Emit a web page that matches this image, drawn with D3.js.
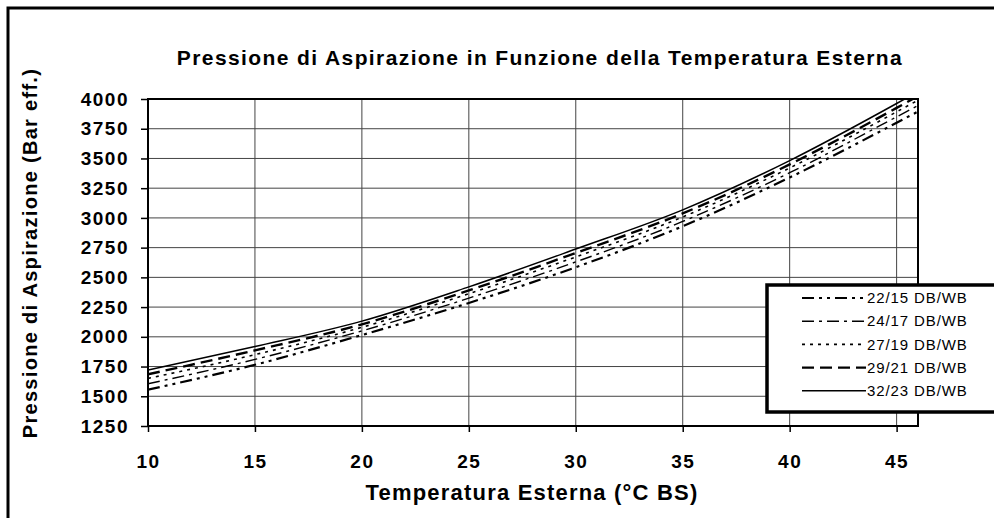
<!DOCTYPE html>
<html>
<head>
<meta charset="utf-8">
<script src="https://cdn.jsdelivr.net/npm/d3@7"></script>
<style>
  body { margin: 0; background: #fff; }
  text { font-family: "Liberation Sans", Arial, sans-serif; }
</style>
</head>
<body>
<svg id="chart" width="994" height="518"></svg>
<script>
// temperatura esterna (°C BS)
var temps = [10, 15, 20, 25, 30, 35, 40, 45, 46];

// pressione di aspirazione per ciascuna condizione interna
var p2215 = [1555, 1765, 2015, 2285, 2585, 2930, 3340, 3800, 3895];
var p2417 = [1605, 1810, 2050, 2325, 2630, 2970, 3380, 3850, 3945];
var p2719 = [1650, 1850, 2080, 2362, 2672, 3008, 3420, 3892, 3990];
var p2921 = [1685, 1886, 2105, 2390, 2705, 3038, 3450, 3925, 4025];
var p3223 = [1720, 1918, 2132, 2420, 2738, 3068, 3482, 3962, 4062];

var seriesNames = ["22/15 DB/WB", "24/17 DB/WB", "27/19 DB/WB", "29/21 DB/WB", "32/23 DB/WB"];
var xTicks = [10, 15, 20, 25, 30, 35, 40, 45];
var yTicks = [1250, 1500, 1750, 2000, 2250, 2500, 2750, 3000, 3250, 3500, 3750, 4000];

var series = [
  {name: seriesNames[0], values: p2215, dash: "12,5,3,5,3,5", w: 2.2},
  {name: seriesNames[1], values: p2417, dash: "12,5,3,5", w: 1.4},
  {name: seriesNames[2], values: p2719, dash: "3,5", w: 1.6},
  {name: seriesNames[3], values: p2921, dash: "12,6", w: 2.4},
  {name: seriesNames[4], values: p3223, dash: null, w: 1.5}
];

var svg = d3.select("#chart"),
    margin = {top: 99, right: 76, bottom: 92, left: 148},
    width = +svg.attr("width") - margin.left - margin.right,
    height = +svg.attr("height") - margin.top - margin.bottom;

// cornice esterna
svg.append("rect")
  .attr("x", 8).attr("y", 8)
  .attr("width", 1010).attr("height", 530)
  .attr("fill", "none").attr("stroke", "#000").attr("stroke-width", 3);

svg.append("text")
  .attr("x", 540).attr("y", 65)
  .attr("text-anchor", "middle")
  .attr("font-size", 21).attr("font-weight", "bold")
  .attr("letter-spacing", 1.4)
  .text("Pressione di Aspirazione in Funzione della Temperatura Esterna");

var x = d3.scaleLinear().domain([10, 46]).range([0, width]),
    y = d3.scaleLinear().domain([1250, 4000]).range([height, 0]);

var g = svg.append("g")
  .attr("transform", "translate(" + margin.left + "," + margin.top + ")");

// griglia
g.append("g").selectAll("line")
  .data(yTicks)
  .enter().append("line")
    .attr("x1", 0).attr("x2", width)
    .attr("y1", function(d) { return y(d); })
    .attr("y2", function(d) { return y(d); })
    .attr("stroke", "#444").attr("stroke-width", 1);

g.append("g").selectAll("line")
  .data(xTicks)
  .enter().append("line")
    .attr("x1", function(d) { return x(d); })
    .attr("x2", function(d) { return x(d); })
    .attr("y1", 0).attr("y2", height)
    .attr("stroke", "#444").attr("stroke-width", 1);

// assi
var yAxis = g.append("g")
  .call(d3.axisLeft(y).tickValues(yTicks).tickSize(7).tickPadding(12).tickFormat(d3.format("d")));
var xAxis = g.append("g")
  .attr("transform", "translate(0," + height + ")")
  .call(d3.axisBottom(x).tickValues(xTicks).tickSize(6).tickPadding(23).tickFormat(d3.format("d")));

[yAxis, xAxis].forEach(function(a) {
  a.select(".domain").remove();
  a.selectAll("line").attr("stroke", "#000").attr("stroke-width", 1.5);
  a.selectAll("text")
    .attr("fill", "#000")
    .attr("font-size", 19).attr("font-weight", "bold")
    .attr("letter-spacing", 1.5)
    .style("font-family", "'Liberation Sans', Arial, sans-serif");
});

g.append("defs").append("clipPath").attr("id", "clip")
  .append("rect").attr("width", width).attr("height", height);

var line = d3.line()
  .x(function(d, i) { return x(temps[i]); })
  .y(function(d) { return y(d); })
  .curve(d3.curveMonotoneX);

g.append("g").attr("clip-path", "url(#clip)")
  .selectAll("path")
  .data(series)
  .enter().append("path")
    .attr("d", function(d) { return line(d.values); })
    .attr("fill", "none")
    .attr("stroke", "#000")
    .attr("stroke-width", function(d) { return d.w; })
    .attr("stroke-dasharray", function(d) { return d.dash; });

// bordo area grafico
g.append("rect")
  .attr("width", width).attr("height", height)
  .attr("fill", "none").attr("stroke", "#000").attr("stroke-width", 2);

// titoli assi
svg.append("text")
  .attr("x", 532).attr("y", 500)
  .attr("text-anchor", "middle")
  .attr("font-size", 22).attr("font-weight", "bold")
  .attr("letter-spacing", 1.2)
  .text("Temperatura Esterna (°C BS)");

svg.append("text")
  .attr("transform", "translate(37,253) rotate(-90)")
  .attr("text-anchor", "middle")
  .attr("font-size", 20).attr("font-weight", "bold")
  .attr("letter-spacing", 1.3)
  .text("Pressione di Aspirazione (Bar eff.)");

// legenda
var leg = svg.append("g").attr("transform", "translate(767,285)");
leg.append("rect")
  .attr("width", 260).attr("height", 127)
  .attr("fill", "#fff").attr("stroke", "#000").attr("stroke-width", 3.5);

var items = leg.selectAll(".item")
  .data(series)
  .enter().append("g")
    .attr("class", "item")
    .attr("transform", function(d, i) { return "translate(0," + (13 + i * 23.2) + ")"; });

items.append("line")
  .attr("x1", 35).attr("x2", 99)
  .attr("stroke", "#000")
  .attr("stroke-width", function(d) { return d.w; })
  .attr("stroke-dasharray", function(d) { return d.dash; });

items.append("text")
  .attr("x", 100).attr("dy", "0.35em")
  .attr("font-size", 15).attr("letter-spacing", 0.9)
  .text(function(d) { return d.name; });
</script>
</body>
</html>
